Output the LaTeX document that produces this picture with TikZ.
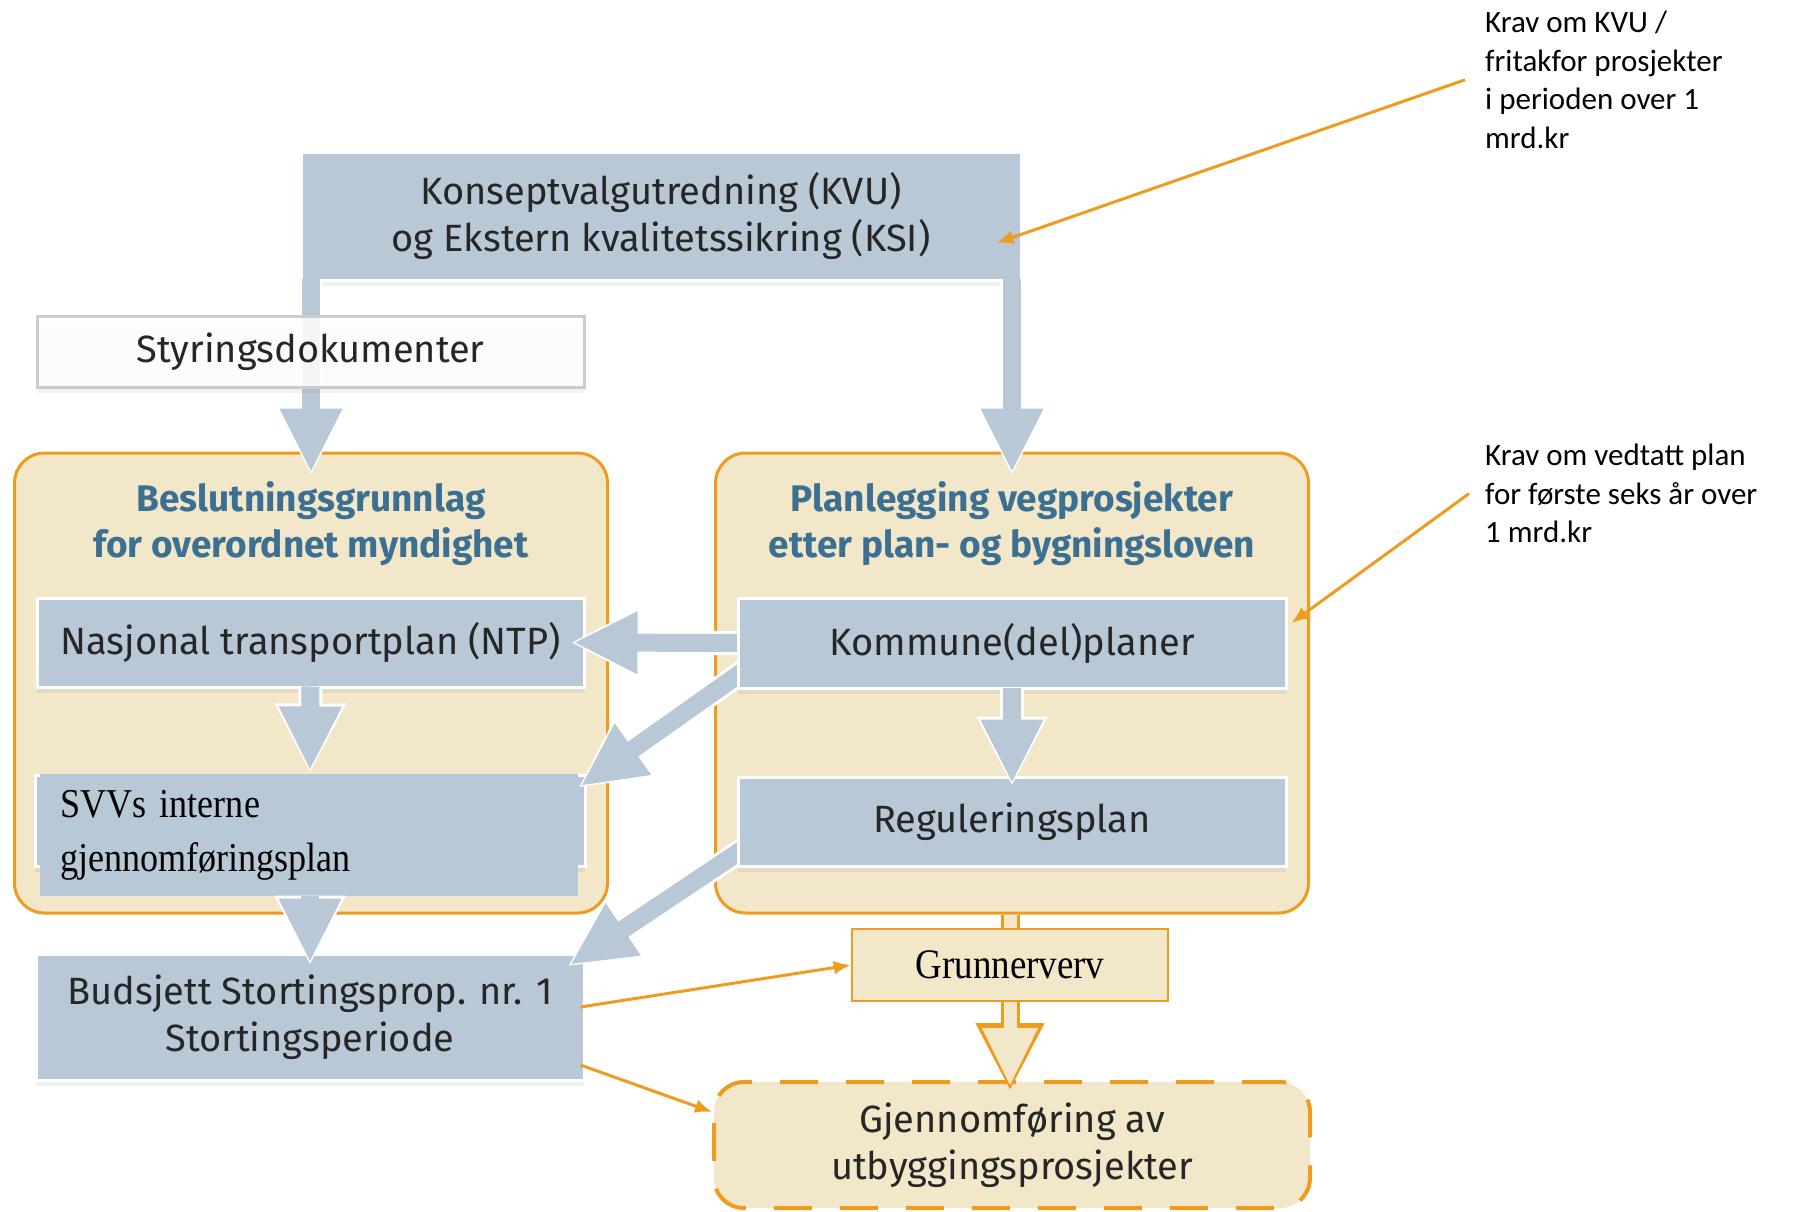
\documentclass[tikz,border=0pt]{standalone}
\usepackage{fontspec}
\newfontfamily\dinfont{Fira Sans}
\newfontfamily\notefont{Carlito}
\newfontfamily\serifnote{Liberation Serif}[FakeStretch=0.88]
\usetikzlibrary{arrows.meta,shadows,calc}

\definecolor{boxblue}{RGB}{184,200,214}
\definecolor{paneltan}{RGB}{242,231,201}
\definecolor{accent}{RGB}{238,156,32}
\definecolor{titleblue}{RGB}{60,112,146}

\pgfdeclarelayer{back}
\pgfdeclarelayer{lower}
\pgfdeclarelayer{arrows}
\pgfdeclarelayer{front}
\pgfsetlayers{back,lower,arrows,main,front}

\tikzset{
  txt/.style={font=\dinfont\fontsize{38}{47}\selectfont, text=black!85},
  plainbox/.style={draw=white, line width=3pt, fill=boxblue, inner sep=0pt, align=center, txt,
    drop shadow={shadow xshift=0pt, shadow yshift=-6pt, opacity=0.12}},
  panel/.style={draw=accent, line width=3pt, fill=paneltan, rounded corners=30pt,
    minimum width=593pt, minimum height=460pt, inner sep=0pt},
  paneltitle/.style={font=\dinfont\bfseries\fontsize{37}{46}\selectfont, text=titleblue, align=center},
  blockarr/.style={draw=boxblue, line width=18pt, shorten >=3pt, -{Triangle[length=64pt,width=58pt]},
    preaction={draw=white, line width=24pt, shorten >=0pt, -{Triangle[length=70pt,width=66pt]}}},
  tanarr/.style={draw=paneltan, line width=13pt, shorten >=5pt, -{Triangle[length=58pt,width=52pt]},
    preaction={draw=accent, line width=19pt, shorten >=0pt, -{Triangle[length=68pt,width=64pt]}}},
  tanbar/.style={draw=paneltan, line width=13pt, preaction={draw=accent, line width=19pt}},
  thinarr/.style={draw=accent, line width=3pt, -{Latex[length=17pt,width=14pt]}},
  note/.style={font=\notefont\fontsize{31}{38.5}\selectfont, align=left, anchor=north west, inner sep=0pt}
}

\begin{document}
\begin{tikzpicture}[x=1pt, y=-1pt]
\useasboundingbox (0,0) rectangle (1795,1211);

% panels
\begin{pgfonlayer}{back}
\node[panel] (lpanel) at (311,683) {};
\node[panel] (rpanel) at (1012,683) {};
\node[paneltitle] (ltitle) at (311,524) {Beslutningsgrunnlag\\for overordnet myndighet};
\node[paneltitle] (rtitle) at (1012,524) {Planlegging vegprosjekter\\etter plan- og bygningsloven};
\node[draw=accent, line width=4pt, dash pattern=on 38pt off 28pt, fill=paneltan, rounded corners=30pt,
  minimum width=596pt, minimum height=126pt, align=center, txt] (gjen) at (1012,1145)
  {Gjennomføring av\\utbyggingsprosjekter};
\end{pgfonlayer}

% left column
\begin{pgfonlayer}{lower}
\node[plainbox, minimum width=547pt, minimum height=89pt] (ntp) at (310.5,642.5) {Nasjonal transportplan (NTP)};
\node[plainbox, minimum width=550pt, minimum height=91pt] (svvold) at (310,820.5) {};
\node[fill=boxblue, inner xsep=20pt, inner ysep=0pt, text width=498pt, minimum height=122pt, align=left,
  font=\serifnote\fontsize{41}{54}\selectfont] (svv) at (309,835) {SVVs interne\\gjennomføringsplan};
\node[plainbox, minimum width=548pt, minimum height=126pt] (bud) at (310,1017) {Budsjett Stortingsprop. nr. 1\\Stortingsperiode};
\end{pgfonlayer}

% right column
\node[plainbox, minimum width=720pt, minimum height=128pt] (kvu) at (661,216) {Konseptvalgutredning (KVU)\\og Ekstern kvalitetssikring (KSI)};
\node[plainbox, minimum width=548pt, minimum height=90pt] (kom) at (1012,643) {Kommune(del)planer};
\node[plainbox, minimum width=548pt, minimum height=89pt] (reg) at (1012,821.5) {Reguleringsplan};
\node[draw=accent, line width=2.5pt, fill=paneltan, minimum width=316pt, minimum height=72pt,
  font=\serifnote\fontsize{42}{47}\selectfont] (grun) at (1010,965) {Grunnerverv};

\begin{pgfonlayer}{arrows}
\draw[blockarr] ([yshift=2pt]ntp.south) -- (svvold.north);
\draw[blockarr] (svv.south -| bud.north) -- ([yshift=-13pt]bud.north);
\draw[blockarr] ([xshift=20pt]kom.west) -- ([xshift=-15pt]ntp.east);
\draw[blockarr] ([shift={(12pt,22pt)}]kom.south west) -- ([yshift=-14pt]svv.north east);
\draw[blockarr] ([shift={(12pt,22pt)}]reg.south west) -- ([shift={(-18pt,-14pt)}]bud.north east);
\draw[tanbar] (rpanel.south -| grun.north) -- (grun.north);
\draw[tanarr] (grun.south) -- ([yshift=-11pt]grun.south |- gjen.north);
\end{pgfonlayer}

\begin{pgfonlayer}{front}
\draw[blockarr] ([yshift=2pt]kom.south) -- ([yshift=-11pt]reg.north);
\draw[blockarr] ($(lpanel.north |- kvu.south)+(0,-3)$) -- ([yshift=-24pt]lpanel.north);
\draw[blockarr] ($(rpanel.north |- kvu.south)+(0,-3)$) -- ([yshift=-24pt]rpanel.north);
\node[draw=black!20, line width=3pt, fill=white, fill opacity=0.85, text opacity=1, minimum width=547pt,
  minimum height=71pt, inner sep=0pt, txt, drop shadow={shadow xshift=0pt, shadow yshift=-6pt, opacity=0.1}]
  (styr) at (310.5,351.5) {Styringsdokumenter};
% notes
\node[note] (note1) at (1485,11) {Krav om KVU /\\fritakfor prosjekter\\i perioden over 1\\mrd.kr};
\node[note] (note2) at (1485,444) {Krav om vedtatt plan\\for første seks år over\\1 mrd.kr};
\draw[thinarr] ([xshift=-20pt]note1.west) -- ([shift={(-26pt,-27pt)}]kvu.east);
\draw[thinarr] ([xshift=-16pt]note2.west) -- ([shift={(4pt,20pt)}]kom.east);
\draw[thinarr] ([shift={(-5pt,10pt)}]bud.east) -- (grun.west);
\draw[thinarr] ([shift={(-5pt,-48pt)}]bud.east) -- ([yshift=33pt]gjen.west);
\end{pgfonlayer}
\end{tikzpicture}
\end{document}
